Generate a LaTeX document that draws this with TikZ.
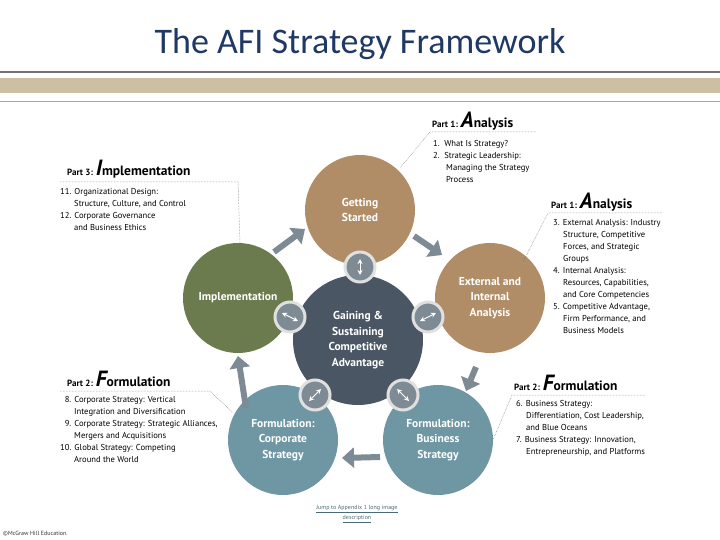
\documentclass[tikz,border=0pt]{standalone}
\usepackage{fontspec}
\setmainfont{PT Sans}
\newfontfamily\titlefont{Carlito}
\usetikzlibrary{arrows.meta}
\definecolor{tan}{HTML}{B08D66}
\definecolor{olive}{HTML}{6B7B4D}
\definecolor{teal}{HTML}{6E97A3}
\definecolor{slate}{HTML}{4A5663}
\definecolor{agray}{HTML}{7E8B94}
\definecolor{band}{HTML}{CDBFA1}
\definecolor{ttl}{HTML}{1F3864}
\tikzset{
 big/.style={circle,minimum size=110pt,inner sep=0,text=white,font=\bfseries\fontsize{11.5}{15.5}\selectfont,align=center},
 icon/.style={circle,fill=agray,draw=black!12,line width=3pt,minimum size=30pt,inner sep=0},
 flow/.style={agray,line width=6pt,-{Triangle[length=12pt,width=20pt]}},
 ico/.style={white,line width=0.9pt,{Stealth[length=5pt,width=5pt,open]}-{Stealth[length=5pt,width=5pt,open]}},
 lead/.style={densely dotted,black!55,line width=0.5pt},
 hdr/.style={anchor=base west,inner sep=0,font=\bfseries},
 items/.style={anchor=north west,inner sep=0,align=left,font=\fontsize{8.6}{12}\selectfont}
}
\newcommand{\parthdr}[3]{{\fontsize{9}{10}\selectfont #1: }{\fontsize{22}{20}\selectfont\itshape #2}{\fontsize{13.5}{14}\selectfont #3}}
\begin{document}
\begin{tikzpicture}[x=1pt,y=-1pt]
\useasboundingbox (0,0) rectangle (720,540);
\node[font=\titlefont\fontsize{36}{40}\selectfont,text=ttl] (title) at (360,44) {The AFI Strategy Framework};
\draw[black!55,line width=1.2pt] (0,72) -- (720,72);
\fill[band] (0,78) rectangle (720,93);
\draw[black!35,line width=0.8pt] (0,101) -- (720,101);
% circles
\node[big,fill=tan] (gs) at (360,210) {Getting\\Started};
\node[big,fill=tan] (ext) at (490,298) {External and\\Internal\\Analysis};
\node[big,fill=teal] (bus) at (438,440) {Formulation:\\Business\\Strategy};
\node[big,fill=teal] (corp) at (283,440) {Formulation:\\Corporate\\Strategy};
\node[big,fill=olive] (imp) at (238,298) {Implementation};
\node[big,fill=slate,minimum size=130pt] (ctr) at (358,340) {Gaining \&\\Sustaining\\Competitive\\Advantage};
% icons
\node[icon] (i1) at (360,267) {};
\node[icon] (i2) at (428,317) {};
\node[icon] (i3) at (403,395) {};
\node[icon] (i4) at (315,395) {};
\node[icon] (i5) at (290,317) {};
\draw[ico] ([yshift=-8pt]i1.center) -- ([yshift=8pt]i1.center);
\draw[ico] ([shift={(-8,4)}]i2.center) -- ([shift={(8,-4)}]i2.center);
\draw[ico] ([shift={(-6,-6)}]i3.center) -- ([shift={(6,6)}]i3.center);
\draw[ico] ([shift={(-6,6)}]i4.center) -- ([shift={(6,-6)}]i4.center);
\draw[ico] ([shift={(-8,-4)}]i5.center) -- ([shift={(8,4)}]i5.center);
% flow arrows
\coordinate (a1s) at (414,236); \coordinate (a1e) at (442,255);
\coordinate (a2s) at (476,367); \coordinate (a2e) at (466,391);
\coordinate (a3s) at (380,457); \coordinate (a3e) at (342,458);
\coordinate (a4s) at (246,408); \coordinate (a4e) at (238,356);
\coordinate (a5s) at (274,252); \coordinate (a5e) at (305,229);
\draw[flow] (a1s) -- (a1e);
\draw[flow] (a2s) -- (a2e);
\draw[flow] (a3s) -- (a3e);
\draw[flow] (a4s) -- (a4e);
\draw[flow] (a5s) -- (a5e);
% Part 1 top
\node[hdr] (p1a) at (432,128) {\parthdr{Part 1}{A}{nalysis}};
\coordinate (l1a) at (430,132); \coordinate (l1b) at (536,132); \coordinate (l1c) at (400,168);
\draw[lead] (l1b) -- (l1a) -- (l1c);
\node[items] (t1) at (433,140) {1.\ \ What Is Strategy?\\2.\ \ Strategic Leadership:\\\hspace*{13pt}Managing the Strategy\\\hspace*{13pt}Process};
% Part 1 right
\node[hdr] (p1b) at (551,209) {\parthdr{Part 1}{A}{nalysis}};
\coordinate (l2a) at (548,213); \coordinate (l2b) at (662,213); \coordinate (l2c) at (523,262);
\draw[lead] (l2b) -- (l2a) -- (l2c);
\node[items] (t2) at (553,219) {3. External Analysis: Industry\\\hspace*{10pt}Structure, Competitive\\\hspace*{10pt}Forces, and Strategic\\\hspace*{10pt}Groups\\4. Internal Analysis:\\\hspace*{10pt}Resources, Capabilities,\\\hspace*{10pt}and Core Competencies\\5. Competitive Advantage,\\\hspace*{10pt}Firm Performance, and\\\hspace*{10pt}Business Models};
% Part 3
\node[hdr] (p3) at (67,176) {\parthdr{Part 3}{I}{mplementation}};
\coordinate (l3a) at (60,182); \coordinate (l3b) at (238,182); \coordinate (l3c) at (240,243);
\draw[lead] (l3a) -- (l3b) -- (l3c);
\node[items] (t3) at (60,188) {11. Organizational Design:\\\hspace*{14pt}Structure, Culture, and Control\\12. Corporate Governance\\\hspace*{14pt}and Business Ethics};
% Part 2 left
\node[hdr] (p2a) at (67,386) {\parthdr{Part 2}{F}{ormulation}};
\coordinate (l4a) at (60,391); \coordinate (l4b) at (210,391); \coordinate (l4c) at (233,413);
\draw[lead] (l4a) -- (l4b) -- (l4c);
\node[items] (t4) at (60,396) {\ \ 8. Corporate Strategy: Vertical\\\hspace*{14pt}Integration and Diversification\\\ \ 9. Corporate Strategy: Strategic Alliances,\\\hspace*{14pt}Mergers and Acquisitions\\10. Global Strategy: Competing\\\hspace*{14pt}Around the World};
% Part 2 right
\node[hdr] (p2b) at (514,390) {\parthdr{Part 2}{F}{ormulation}};
\coordinate (l5a) at (512,395); \coordinate (l5b) at (645,395); \coordinate (l5c) at (493,440);
\draw[lead] (l5b) -- (l5a) -- (l5c);
\node[items] (t5) at (516,400) {6. Business Strategy:\\\hspace*{10pt}Differentiation, Cost Leadership,\\\hspace*{10pt}and Blue Oceans\\7. Business Strategy: Innovation,\\\hspace*{10pt}Entrepreneurship, and Platforms};
% footer
\node[font=\fontsize{6}{9.5}\selectfont,text=teal!70!black,align=center] (link) at (357,514) {\underline{Jump to Appendix 1 long image}\\\underline{description}};
\node[anchor=west,font=\fontsize{6}{7}\selectfont,inner sep=0,text=black!80] (copy) at (3,534) {©McGraw Hill Education.};
\end{tikzpicture}
\end{document}
